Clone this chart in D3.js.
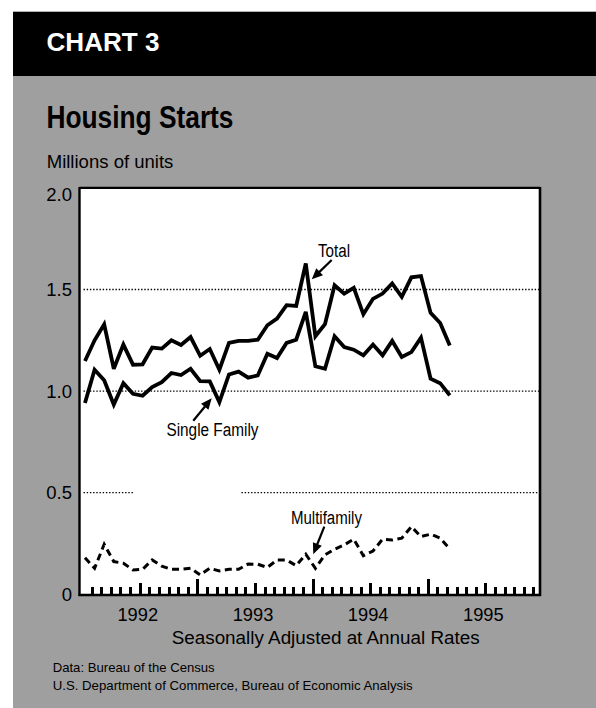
<!DOCTYPE html>
<html><head><meta charset="utf-8">
<script src="https://cdn.jsdelivr.net/npm/d3@7"></script>
<style>
html,body{margin:0;padding:0;background:#fff;}
svg{display:block;font-family:"Liberation Sans",Arial,Helvetica,sans-serif;}
</style>
</head><body>
<svg id="c" width="596" height="708"></svg>
<script>
// ---------- data (monthly, Jan 1992 - Mar 1995, millions of units, SAAR) ----------
const startYear = 1992;
const yearLabels = ["1992", "1993", "1994", "1995"];
const yTickValues = [0, 0.5, 1.0, 1.5, 2.0];
const yTickLabels = ["0", "0.5", "1.0", "1.5", "2.0"];
const gridValues = [0.5, 1.0, 1.5];

const total = [1.148, 1.250, 1.329, 1.110, 1.229, 1.130, 1.132, 1.214, 1.209, 1.250, 1.227, 1.266,
               1.174, 1.207, 1.105, 1.237, 1.247, 1.247, 1.253, 1.324, 1.357, 1.423, 1.419, 1.628,
               1.270, 1.329, 1.521, 1.480, 1.508, 1.378, 1.454, 1.480, 1.530, 1.464, 1.560, 1.566,
               1.385, 1.335, 1.225];
const singleFamily = [0.941, 1.105, 1.053, 0.934, 1.039, 0.987, 0.977, 1.020, 1.044, 1.089, 1.079, 1.110,
                      1.049, 1.048, 0.946, 1.082, 1.096, 1.066, 1.077, 1.184, 1.163, 1.237, 1.253, 1.390,
                      1.122, 1.110, 1.270, 1.217, 1.204, 1.176, 1.229, 1.176, 1.247, 1.168, 1.192, 1.263,
                      1.061, 1.039, 0.979];
const multifamily = [0.180, 0.128, 0.246, 0.161, 0.153, 0.120, 0.123, 0.169, 0.139, 0.123, 0.123, 0.128,
                     0.095, 0.128, 0.115, 0.123, 0.123, 0.149, 0.148, 0.132, 0.169, 0.169, 0.141, 0.197,
                     0.128, 0.194, 0.222, 0.243, 0.271, 0.190, 0.213, 0.271, 0.267, 0.276, 0.333, 0.284,
                     0.296, 0.276, 0.223];

// annotations in data units (month index from Jan 1992, value)
const annotations = [
  {text: "Total",         at: [26.24, 1.660], from: [26.0, 1.645], to: [23.92, 1.550], width: 32},
  {text: "Single Family", at: [13.58, 0.779], from: [11.58, 0.854], to: [13.5, 0.965], width: 92},
  {text: "Multifamily",   at: [25.45, 0.346], from: [25.23, 0.333], to: [24.08, 0.197], width: 71}
];

(function () {
// ---------- layout ----------
const svg = d3.select("#c");
const W = 596, H = 708;
const nMonths = yearLabels.length * 12;

const x = d3.scaleLinear().domain([0, nMonths]).range([82.1, 542.9]);
const y = d3.scaleLinear().domain([0, 2]).range([594.3, 187.9]);
const pointOffset = 0.3;

// backgrounds
svg.append("rect").attr("x", 0).attr("y", 0).attr("width", W).attr("height", H).attr("fill", "#fff");
svg.append("rect").attr("x", 13).attr("y", 76).attr("width", W - 13).attr("height", H - 76).attr("fill", "#9f9f9f");
svg.append("rect").attr("x", 13).attr("y", 11.7).attr("width", W - 13).attr("height", 64.3).attr("fill", "#000");

svg.append("text").attr("x", 46.5).attr("y", 50.7)
  .attr("font-size", 25).attr("font-weight", "bold").attr("fill", "#fff")
  .attr("textLength", 113).attr("lengthAdjust", "spacingAndGlyphs").text("CHART 3");

svg.append("text").attr("x", 46.5).attr("y", 128.3)
  .attr("font-size", 31).attr("font-weight", "bold").attr("fill", "#000")
  .attr("textLength", 187).attr("lengthAdjust", "spacingAndGlyphs").text("Housing Starts");

svg.append("text").attr("x", 46.7).attr("y", 168.3)
  .attr("font-size", 18.5).attr("fill", "#000")
  .attr("textLength", 126.7).attr("lengthAdjust", "spacingAndGlyphs").text("Millions of units");

// plot frame
const pLeft = x(0) - 2.6, pRight = x(nMonths) - 2.9, pTop = y(2), pBottom = y(0) + 0.7;
svg.append("rect").attr("x", pLeft).attr("y", pTop).attr("width", pRight - pLeft).attr("height", pBottom - pTop).attr("fill", "#fff");

// gridlines (0.5 line interrupted as in original)
const gridGap = [5.4, 16.6];
const g = svg.append("g").attr("stroke", "#000").attr("stroke-width", 1.3).attr("stroke-dasharray", "1.4,1.8");
gridValues.forEach(v => {
  if (v === 0.5) {
    g.append("line").attr("x1", pLeft + 4).attr("x2", x(gridGap[0])).attr("y1", y(v)).attr("y2", y(v));
    g.append("line").attr("x1", x(gridGap[1])).attr("x2", pRight).attr("y1", y(v)).attr("y2", y(v));
  } else {
    g.append("line").attr("x1", pLeft + 4).attr("x2", pRight).attr("y1", y(v)).attr("y2", y(v));
  }
});

// month ticks
const tickG = svg.append("g").attr("stroke", "#000").attr("stroke-width", 2.2).attr("shape-rendering", "crispEdges");
d3.range(1, nMonths).forEach(m => {
  const len = m % 12 === 0 ? 16 : (m % 6 === 0 ? 12 : 8);
  const xm = Math.round(x(m)) + 0.5;
  tickG.append("line").attr("x1", xm).attr("x2", xm).attr("y1", pBottom).attr("y2", pBottom - len);
});

// frame lines
const fr = svg.append("g").attr("stroke", "#000").attr("fill", "none");
fr.append("line").attr("x1", pLeft).attr("x2", pLeft).attr("y1", pTop - 1).attr("y2", pBottom + 1).attr("stroke-width", 2.4);
fr.append("line").attr("x1", pLeft).attr("x2", pRight).attr("y1", pTop).attr("y2", pTop).attr("stroke-width", 2.2);
fr.append("line").attr("x1", pRight).attr("x2", pRight).attr("y1", pTop - 1).attr("y2", pBottom + 1).attr("stroke-width", 2.6);
fr.append("line").attr("x1", pLeft - 1).attr("x2", pRight + 1).attr("y1", pBottom).attr("y2", pBottom).attr("stroke-width", 2.6);

// y labels
yTickValues.forEach((v, i) => {
  svg.append("text").attr("x", 72).attr("y", Math.max(y(v), y(2) + 7)).attr("dy", "0.35em")
    .attr("text-anchor", "end").attr("font-size", 18.5).attr("fill", "#000").text(yTickLabels[i]);
});

// year labels
yearLabels.forEach((t, i) => {
  svg.append("text").attr("x", x(i * 12 + 5.8)).attr("y", 621).attr("text-anchor", "middle")
    .attr("font-size", 18.3).attr("fill", "#000").text(t);
});

svg.append("text").attr("x", 325.7).attr("y", 644).attr("text-anchor", "middle")
  .attr("font-size", 18.7).attr("fill", "#000")
  .attr("textLength", 308).attr("lengthAdjust", "spacingAndGlyphs").text("Seasonally Adjusted at Annual Rates");

svg.append("text").attr("x", 52.7).attr("y", 672).attr("font-size", 13).attr("fill", "#000")
  .attr("textLength", 162).attr("lengthAdjust", "spacingAndGlyphs").text("Data: Bureau of the Census");
svg.append("text").attr("x", 52.7).attr("y", 690).attr("font-size", 13).attr("fill", "#000")
  .attr("textLength", 360).attr("lengthAdjust", "spacingAndGlyphs").text("U.S. Department of Commerce, Bureau of Economic Analysis");

// series lines
const line = d3.line().x((d, i) => x(i + pointOffset)).y(d => y(d)).curve(d3.curveLinear);
svg.append("path").datum(total).attr("d", line).attr("fill", "none").attr("stroke", "#000")
  .attr("stroke-width", 3.8).attr("stroke-linejoin", "miter").attr("stroke-miterlimit", 3);
svg.append("path").datum(singleFamily).attr("d", line).attr("fill", "none").attr("stroke", "#000")
  .attr("stroke-width", 3.8).attr("stroke-linejoin", "miter").attr("stroke-miterlimit", 3);
svg.append("path").datum(multifamily).attr("d", line).attr("fill", "none").attr("stroke", "#000")
  .attr("stroke-width", 3).attr("stroke-dasharray", "7,4.5");

// annotations
annotations.forEach(a => {
  svg.append("text").attr("x", x(a.at[0])).attr("y", y(a.at[1])).attr("text-anchor", "middle")
    .attr("font-size", 18).attr("fill", "#000")
    .attr("textLength", a.width).attr("lengthAdjust", "spacingAndGlyphs").text(a.text);
  const x1 = x(a.from[0]), y1 = y(a.from[1]), x2 = x(a.to[0]), y2 = y(a.to[1]);
  const dx = x2 - x1, dy = y2 - y1, L = Math.hypot(dx, dy), ux = dx / L, uy = dy / L;
  const hl = 11, hw = 4.8;
  const bx = x2 - ux * hl, by = y2 - uy * hl;
  svg.append("line").attr("x1", x1).attr("y1", y1).attr("x2", bx + ux).attr("y2", by + uy)
    .attr("stroke", "#000").attr("stroke-width", 2.2);
  svg.append("path")
    .attr("d", `M${x2},${y2}L${bx - uy * hw},${by + ux * hw}L${bx + uy * hw},${by - ux * hw}Z`)
    .attr("fill", "#000");
});
})();
</script>
</body></html>
